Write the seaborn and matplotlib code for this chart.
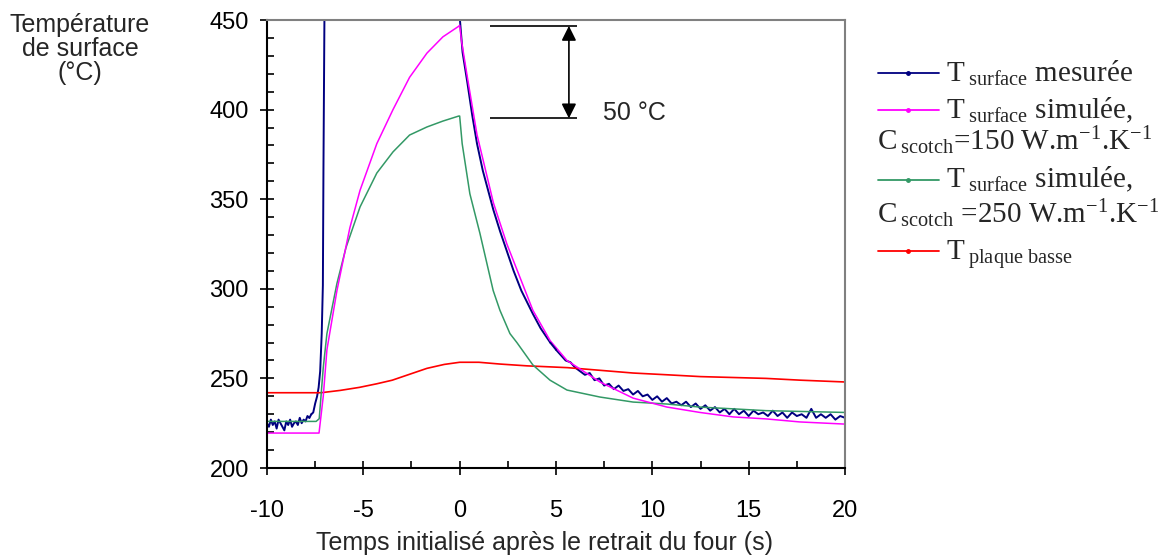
import numpy as np
import matplotlib
matplotlib.use('Agg')
import matplotlib.pyplot as plt
import seaborn as sns
from matplotlib.lines import Line2D
from matplotlib.ticker import MultipleLocator

# -------------------------------------------------
# données
# -------------------------------------------------

# T surface mesurée : bruit avant la montée (pas 0.1 s)
mes_pre_t = np.arange(-10.0, -7.75, 0.1)
mes_pre_T = [225, 223, 227, 224, 226, 222, 227, 225, 223, 221, 226, 224,
             227, 223, 225, 226, 224, 228, 225, 227, 226, 229, 228]

# montée (sort du cadre) puis décroissance après t = 0
mes_mid_t = [-7.7, -7.6, -7.5, -7.4, -7.32, -7.24, -7.16, -7.1, -7.07, -7.02,
             -6.98, -0.03, 0.0, 0.15, 0.4, 0.65, 0.9, 1.2, 1.5, 1.75, 2.1,
             2.45, 2.8, 3.2, 3.8, 4.2, 4.7]
mes_mid_T = [230, 231, 236, 240, 245, 254, 275, 302, 367, 450,
             480, 480, 452, 432, 415, 397, 381, 366, 354, 344, 332,
             321, 310, 299, 286, 278, 270]

# queue bruitée (pas 0.25 s)
mes_tail_t = np.arange(5.0, 20.01, 0.25)
mes_tail_T = [266, 263, 260, 259, 256, 254, 252, 253, 249, 250, 246, 247,
              244, 246, 243, 244, 241, 243, 240, 241, 238, 240, 237, 239,
              236, 237, 235, 237, 234, 236, 233, 235, 232, 234, 231, 233,
              230, 233, 230, 232, 229, 232, 230, 231, 229, 232, 229, 231,
              228, 231, 229, 230, 228, 233, 228, 230, 228, 230, 227, 229,
              228]

# T surface simulée, C scotch = 150
sim150_t = [-10, -7.3, -7.08, -6.89, -6.37, -5.7, -5.17, -4.3, -3.46, -2.6,
            -1.7, -0.87, -0.05, 0.0, 0.1, 0.4, 0.9, 1.75, 2.45, 3.8, 4.7,
            5.57, 7.28, 9.0, 10.76, 12.47, 14.2, 15.9, 17.66, 20]
sim150_T = [219.5, 219.5, 240, 266, 299, 334, 355, 381, 400, 418,
            431.5, 440.6, 446.5, 447, 438, 418, 386, 348, 325, 288, 271,
            260, 248, 239, 234, 231, 228.5, 227.4, 225.7, 224.5]

# T surface simulée, C scotch = 250
sim250_t = [-10, -7.45, -7.29, -7.08, -6.89, -6.37, -5.9, -5.17, -4.3, -3.46,
            -2.6, -1.7, -0.87, -0.05, 0.0, 0.13, 0.53, 1.05, 1.74, 2.09, 2.61,
            2.97, 3.8, 4.69, 5.57, 7.28, 9.0, 10.76, 12.47, 14.2, 15.9, 20]
sim250_T = [226, 226, 227.5, 256, 275, 303, 323, 345.7, 364.6, 376.4,
            385.8, 390.3, 393.6, 396.4, 396.4, 381, 353, 331, 299, 288, 275,
            270, 257.5, 249, 243.5, 239.6, 236.8, 235.7, 234, 233, 232, 231]

# T plaque basse
plaque_t = [-10, -7.2, -6.2, -5.2, -4.3, -3.5, -2.6, -1.7, -0.8, 0.0, 1.0,
            2.1, 3.5, 5.6, 7.3, 9.0, 10.8, 12.5, 14.2, 15.9, 17.7, 20]
plaque_T = [242, 242, 243.3, 245, 247, 249, 252.3, 255.6, 257.8, 259, 259,
            258, 257, 256, 254.5, 253, 252, 251, 250.5, 250, 249, 248]

C_MES = '#000080'
C_150 = '#FF00FF'
C_250 = '#339966'
C_PLQ = '#FF0000'

# -------------------------------------------------
# style
# -------------------------------------------------

sns.set_style('white')
plt.rcParams['font.family'] = ['Liberation Sans', 'DejaVu Sans']
plt.rcParams['axes.unicode_minus'] = False
plt.rcParams['mathtext.fontset'] = 'custom'
plt.rcParams['mathtext.rm'] = 'Liberation Serif'
plt.rcParams['mathtext.it'] = 'Liberation Serif:italic'
plt.rcParams['mathtext.bf'] = 'Liberation Serif:bold'

W, H = 1164, 559
FS = 17
LBL = 18

fig = plt.figure(figsize=(W / 100, H / 100), dpi=100)
ax = fig.add_axes([267 / W, 1 - 468 / H, (845 - 267) / W, (468 - 20) / H])

series = [
    (mes_pre_t, mes_pre_T, C_MES, 1.4),
    (mes_mid_t, mes_mid_T, C_MES, 1.4),
    (mes_tail_t, mes_tail_T, C_MES, 1.4),
    (plaque_t, plaque_T, C_PLQ, 1.2),
    (sim250_t, sim250_T, C_250, 1.1),
    (sim150_t, sim150_T, C_150, 1.1),
]

# raccord entre les morceaux de la courbe mesurée
join_t = [mes_pre_t[-1], mes_mid_t[0]]
join_T = [mes_pre_T[-1], mes_mid_T[0]]
join2_t = [mes_mid_t[-1], mes_tail_t[0]]
join2_T = [mes_mid_T[-1], mes_tail_T[0]]
series += [(join_t, join_T, C_MES, 1.4), (join2_t, join2_T, C_MES, 1.4)]

for t, T, c, lw in series:
    sns.lineplot(x=t, y=T, color=c, lw=lw, ax=ax,
                 estimator=None, sort=False, legend=False)

ax.set_xlim(-10, 20)
ax.set_ylim(200, 450)
ax.xaxis.set_major_locator(MultipleLocator(5))
ax.xaxis.set_minor_locator(MultipleLocator(2.5))
ax.yaxis.set_major_locator(MultipleLocator(50))
ax.yaxis.set_minor_locator(MultipleLocator(10))

ax.tick_params(which='major', direction='inout', length=10, width=1.2,
               colors='black', labelsize=FS)
ax.tick_params(which='minor', direction='in', length=5, width=1.2,
               colors='black')
ax.tick_params(axis='x', which='major', pad=18)
ax.tick_params(axis='y', which='major', pad=8)
ax.tick_params(bottom=True, left=True, which='both')

for side in ['left', 'bottom']:
    ax.spines[side].set_color('black')
    ax.spines[side].set_linewidth(1.5)
for side in ['top', 'right']:
    ax.spines[side].set_color('#808080')
    ax.spines[side].set_linewidth(1.5)

ax.set_xlabel('')
fig.text(545 / W, 1 - 550 / H, 'Temps initialisé après le retrait du four (s)',
         ha='center', va='baseline', fontsize=LBL)

for s, yb in [('Température', 32), ('de surface', 56), ('(°C)', 80)]:
    fig.text(80 / W, 1 - yb / H, s, ha='center', va='baseline', fontsize=LBL)

# -------------------------------------------------
# annotation 50 °C
# -------------------------------------------------

ax.hlines([446.7, 395.1], 1.57, 6.1, color='black', lw=1.2)
ax.annotate('', xy=(5.67, 446.7), xytext=(5.67, 395.1),
            arrowprops=dict(arrowstyle='<|-|>', color='black', lw=1.2,
                            mutation_scale=22, shrinkA=0, shrinkB=0))
ax.text(7.42, 398.3, '50 °C', ha='left', va='center', fontsize=LBL)

# -------------------------------------------------
# légende dessinée à la main
# -------------------------------------------------

LFS = 21


def handle(y, color):
    xs = [878 / W, 908 / W, 939 / W]
    ys = [1 - y / H] * 3
    fig.add_artist(Line2D(xs, ys, color=color, lw=1.3,
                          marker='o', ms=2.5, markevery=[1]))


def ltext(x, y, s):
    fig.text(x / W, 1 - y / H, s, ha='left', va='baseline',
             fontsize=LFS, family='Liberation Serif')


handle(72.7, C_MES)
ltext(946, 81.7, r'T$_{\;\mathrm{surface}}$ mesurée')
handle(110, C_150)
ltext(946, 118.3, r'T$_{\;\mathrm{surface}}$ simulée,')
ltext(877, 150, r'C$_{\;\mathrm{scotch}}$=150 W.m$^{-1}$.K$^{-1}$')
handle(180, C_250)
ltext(946, 187.3, r'T$_{\;\mathrm{surface}}$ simulée,')
ltext(877, 223, r'C$_{\;\mathrm{scotch}}$ =250 W.m$^{-1}$.K$^{-1}$')
handle(251, C_PLQ)
ltext(946, 260, r'T$_{\;\mathrm{plaque\ basse}}$')

fig.savefig('out.png', dpi=100)
